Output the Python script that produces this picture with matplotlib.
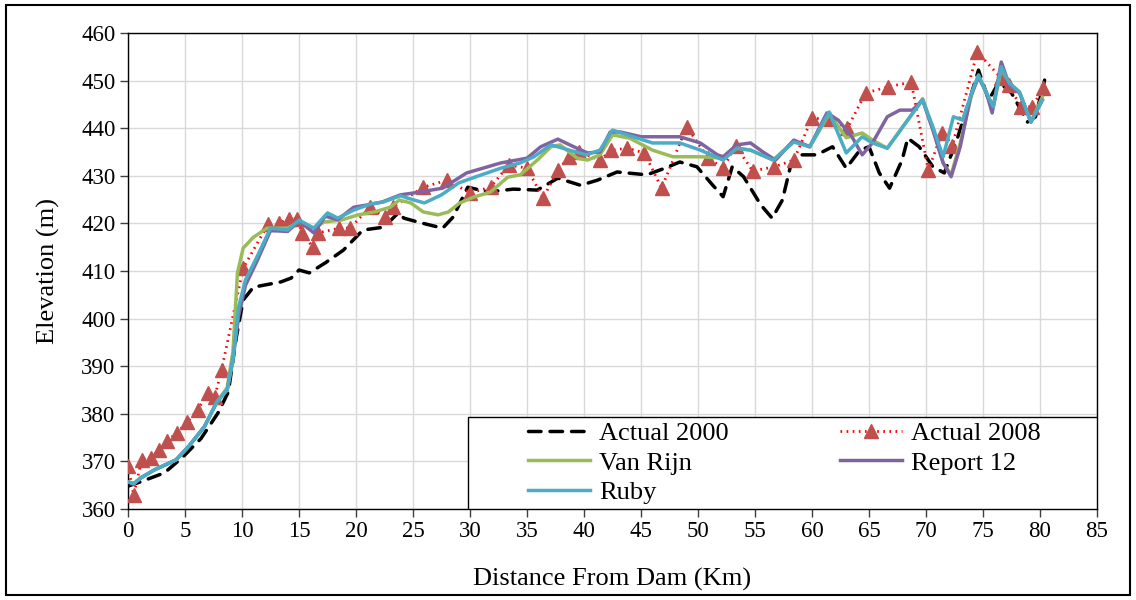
import matplotlib
matplotlib.use("Agg")
import matplotlib.pyplot as plt
from matplotlib.patches import Rectangle

plt.rcParams['font.family'] = ['Liberation Serif', 'DejaVu Serif']

# Actual 2000 (dashed black)
x_2000 = [0, 1.1, 3.2, 4.8, 6.4, 7.9, 8.8, 9.5, 10.1, 11.0, 13.4, 14.3, 15.0, 15.9,
          17.3, 18.9, 20.6, 22.4, 22.9, 23.7, 24.2, 25.4, 26.4, 27.6, 28.5, 29.8,
          31.6, 33.8, 35.9, 37.7, 39.7, 41.2, 42.9, 45.5, 47.1, 48.4, 49.9, 51.3,
          52.2, 53.0, 54.0, 55.5, 56.5, 57.4, 58.1, 59.0, 60.4, 61.8, 63.0, 64.2,
          65.0, 65.9, 66.8, 67.9, 68.4, 69.4, 70.6, 71.6, 72.7, 73.9, 74.6, 75.5,
          76.4, 77.5, 78.9, 79.6, 80.4]
y_2000 = [364.8, 365.7, 367.6, 370.9, 374.8, 380.2, 384.6, 396.1, 403.9, 406.6, 407.7,
          408.5, 410.2, 409.6, 411.7, 414.4, 418.6, 419.2, 420.3, 422.2, 421.1, 420.3,
          419.7, 419.0, 421.3, 427.6, 426.6, 427.2, 427.0, 429.5, 428.0, 429.1, 430.8,
          430.2, 431.6, 432.9, 431.9, 428.0, 425.6, 431.9, 429.8, 423.9, 421.1, 424.9,
          431.9, 434.4, 434.4, 436.1, 431.6, 435.4, 436.1, 430.6, 427.4, 433.3, 437.9,
          436.1, 431.9, 430.6, 437.5, 446.6, 452.2, 445.9, 449.7, 447.4, 441.3, 442.4,
          450.1]

# Actual 2008 (dotted red with triangles)
x_2008 = [0, 0.5, 1.2, 2.0, 2.7, 3.4, 4.3, 5.2, 6.1, 7.0, 7.6, 8.2, 10.1, 12.3, 13.2,
          14.1, 14.8, 15.3, 16.2, 16.7, 18.5, 19.5, 21.2, 22.5, 23.2, 25.9, 28.0,
          30.0, 31.8, 33.4, 35.0, 36.4, 37.7, 38.7, 39.6, 41.4, 42.4, 43.8, 45.3,
          46.8, 49.0, 50.9, 52.2, 53.3, 54.8, 56.7, 58.4, 60.0, 61.6, 63.1, 64.7,
          66.7, 68.7, 70.2, 71.4, 72.3, 74.5, 76.6, 77.3, 78.3, 79.3, 80.3]
y_2008 = [369.0, 363.0, 370.3, 370.7, 372.4, 374.3, 376.0, 378.3, 380.8, 384.4, 383.5,
          389.2, 410.6, 419.9, 420.0, 421.0, 421.0, 418.0, 415.0, 418.0, 419.0, 419.0,
          423.4, 421.3, 423.4, 427.6, 429.1, 426.4, 427.6, 432.3, 431.6, 425.3, 431.2,
          434.0, 435.0, 433.3, 435.4, 435.8, 434.8, 427.4, 440.3, 433.7, 431.6, 436.3,
          431.0, 431.9, 433.3, 442.1, 441.9, 440.0, 447.4, 448.7, 449.7, 431.2, 439.0,
          436.3, 456.0, 450.5, 449.0, 444.5, 444.5, 448.4]

# Van Rijn (green)
x_vanrijn = [0, 0.5, 1.1, 2.3, 4.2, 5.3, 6.7, 7.8, 8.7, 9.2, 9.6, 10.1, 11.0, 12.2, 14.0,
             15.0, 16.3, 17.2, 18.7, 20.2, 21.6, 23.0, 23.8, 24.8, 25.9, 27.2, 28.1,
             29.1, 30.3, 31.8, 33.3, 34.4, 35.9, 37.1, 37.9, 39.4, 40.3, 41.4, 42.5,
             44.0, 46.0, 47.8, 50.2, 52.2, 53.4, 54.6, 56.6, 58.4, 59.8, 61.5, 63.0,
             64.4, 65.3, 66.6, 68.6, 69.7, 70.6, 71.5, 72.2, 73.0, 74.0, 74.6, 75.3,
             75.9, 76.6, 77.3, 78.2, 79.2, 80.2]
y_vanrijn = [365.7, 365.3, 366.5, 368.2, 370.3, 373.1, 377.3, 382.5, 385.5, 393.0, 409.6,
             414.8, 417.1, 419.0, 419.0, 420.3, 419.0, 420.3, 420.7, 421.8, 422.4, 423.4,
             424.9, 424.3, 422.4, 421.8, 422.4, 424.3, 425.5, 426.6, 429.7, 430.2, 433.3,
             436.1, 436.5, 433.7, 433.3, 434.4, 438.6, 437.9, 435.4, 434.0, 434.0, 433.7,
             435.8, 435.4, 433.3, 437.3, 436.1, 443.0, 438.0, 439.0, 437.5, 435.8, 442.4,
             446.2, 440.0, 432.7, 430.2, 436.9, 447.0, 451.0, 447.4, 444.5, 452.5, 449.5,
             447.6, 441.3, 446.5]

# Report 12 (purple)
x_report12 = [0, 0.5, 1.1, 2.3, 4.2, 5.3, 6.7, 7.8, 8.7, 9.2, 9.7, 10.3, 11.3, 12.5, 14.0,
              15.0, 16.3, 17.3, 18.4, 19.8, 21.3, 22.3, 23.9, 25.1, 27.6, 29.7, 32.7,
              35.0, 36.2, 37.7, 39.1, 40.3, 41.4, 42.3, 43.2, 45.0, 48.4, 50.2, 51.7,
              52.2, 53.4, 54.6, 55.7, 56.8, 58.4, 59.8, 61.3, 62.3, 63.5, 64.4, 65.3,
              66.6, 67.7, 68.8, 69.7, 70.6, 71.5, 72.2, 73.0, 73.9, 74.6, 75.3, 75.8,
              76.6, 77.3, 78.2, 79.2, 80.2]
y_report12 = [365.7, 365.3, 366.5, 368.2, 370.3, 373.1, 377.3, 382.5, 385.0, 391.3, 400.5,
              407.0, 412.0, 418.5, 418.3, 420.5, 418.0, 421.5, 420.8, 423.4, 424.0, 424.5,
              426.0, 426.4, 427.4, 430.6, 432.7, 433.7, 436.1, 437.7, 436.1, 434.8, 435.0,
              439.2, 439.2, 438.2, 438.2, 436.9, 434.4, 434.0, 436.5, 436.9, 435.0, 433.3,
              437.5, 436.1, 443.2, 441.7, 438.2, 434.4, 436.9, 442.4, 443.8, 443.8, 445.9,
              439.6, 432.7, 429.8, 436.1, 446.6, 450.8, 447.4, 443.2, 453.9, 449.1, 447.4,
              441.3, 445.9]

# Ruby (cyan)
x_ruby = [0, 0.5, 1.1, 2.3, 4.2, 5.3, 6.7, 7.8, 8.7, 9.2, 9.7, 10.3, 11.3, 12.5, 14.0,
          15.0, 16.3, 17.5, 18.4, 19.8, 21.3, 22.4, 23.9, 25.1, 26.0, 27.5, 29.0, 30.4,
          32.7, 34.4, 35.6, 37.1, 38.7, 40.2, 41.4, 42.5, 44.3, 46.0, 48.4, 50.2, 52.2,
          53.4, 54.6, 56.6, 58.4, 59.8, 61.5, 63.0, 64.4, 65.3, 66.6, 68.6, 69.7, 70.6,
          71.5, 72.4, 73.2, 74.0, 74.6, 75.3, 75.9, 76.6, 77.3, 78.2, 79.2, 80.2]
y_ruby = [365.7, 365.3, 366.5, 368.2, 370.3, 373.1, 377.3, 382.5, 385.0, 391.3, 402.4,
          408.1, 412.9, 419.0, 418.6, 420.7, 419.0, 422.2, 421.1, 422.8, 424.1, 424.5,
          425.8, 424.9, 424.3, 426.0, 428.5, 429.7, 431.6, 432.7, 434.0, 436.5, 435.4,
          434.4, 435.4, 439.6, 438.2, 436.9, 436.9, 435.4, 433.3, 435.8, 435.4, 433.3,
          437.1, 436.1, 443.4, 434.8, 438.2, 436.9, 435.8, 442.4, 445.9, 440.3, 434.0,
          442.4, 441.7, 447.4, 451.2, 447.4, 444.5, 452.9, 449.5, 447.6, 441.3, 445.9]

x_ticks = list(range(0, 90, 5))
y_ticks = list(range(360, 470, 10))

fig = plt.figure(figsize=(11.36, 6.0), dpi=100)
ax = fig.add_axes([0.1127, 0.1517, 0.853, 0.7933])

l2000, = ax.plot(x_2000, y_2000, color='black', lw=2.5, ls=(0, (3.6, 2.6)),
                 dash_capstyle='round', label='Actual 2000', zorder=3)
l2008, = ax.plot(x_2008, y_2008, color='#FF0000', lw=2, ls=(0, (0.6, 1.6)),
                 marker='^', markersize=9.5, markerfacecolor='#C0504D',
                 markeredgecolor='#C0504D', label='Actual 2008', zorder=3)
lvr, = ax.plot(x_vanrijn, y_vanrijn, color='#9BBB59', lw=2.5, label='Van Rijn', zorder=4)
lr12, = ax.plot(x_report12, y_report12, color='#8064A2', lw=2.5, label='Report 12', zorder=4)
lruby, = ax.plot(x_ruby, y_ruby, color='#4BACC6', lw=2.5, label='Ruby', zorder=4)

ax.set_xlim(0, 85)
ax.set_ylim(360, 460)
ax.set_xticks(x_ticks)
ax.set_yticks(y_ticks)
ax.grid(True, color='#D9D9D9', lw=1)
ax.set_axisbelow(True)
ax.tick_params(direction='out', length=6, width=1, pad=3, labelsize=16.5, color='#404040')
for s in ax.spines.values():
    s.set_color('black')
    s.set_linewidth(1)

ax.set_xlabel('Distance From Dam (Km)', fontsize=19, labelpad=18)
ax.set_ylabel('Elevation (m)', fontsize=19, labelpad=15)

# legend box (white, black edge) in the lower right of the plot
ax.add_patch(Rectangle((0.351, 0.0), 0.649, 0.193, transform=ax.transAxes,
                       facecolor='white', edgecolor='black', lw=1, zorder=9))
leg = ax.legend([l2000, lvr, lruby, l2008, lr12],
                ['Actual 2000', 'Van Rijn', 'Ruby', 'Actual 2008', 'Report 12'],
                ncol=2, loc='upper left', bbox_to_anchor=(0.413, 0.183),
                fontsize=19, frameon=False, handlelength=2.35, handletextpad=0.35,
                columnspacing=4.2, labelspacing=0.22, borderpad=0, borderaxespad=0)
leg.set_zorder(10)

fig.patches.append(Rectangle((0.005, 0.008), 0.99, 0.984, transform=fig.transFigure,
                             fill=False, edgecolor='black', lw=1.5))

fig.savefig('out.png', dpi=100)
